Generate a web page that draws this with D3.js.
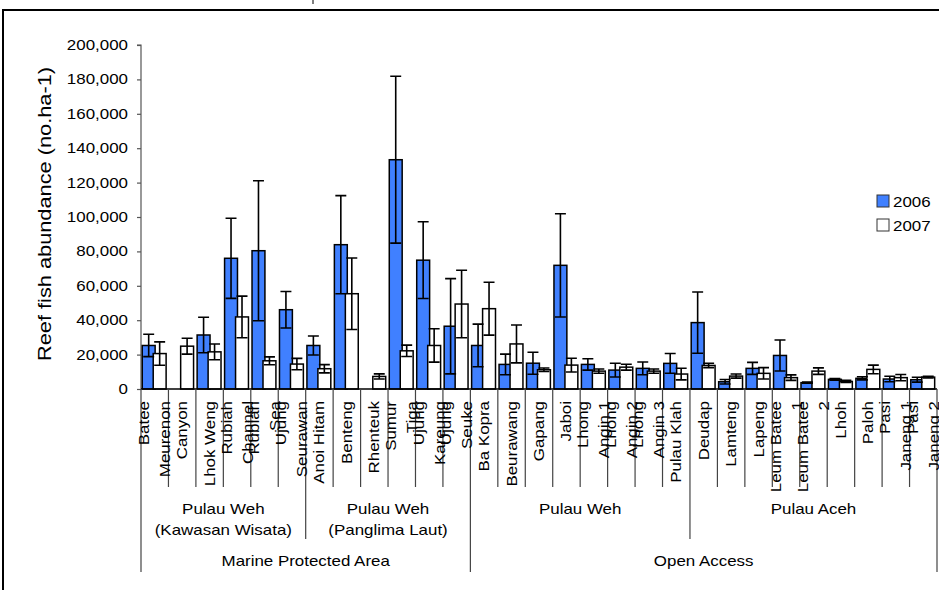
<!DOCTYPE html>
<html>
<head>
<meta charset="utf-8">
<script src="https://cdn.jsdelivr.net/npm/d3@7/dist/d3.min.js"></script>
<style>
  html, body { margin: 0; padding: 0; background: #fff; overflow: hidden; }
  svg { display: block; font-family: Arial, "Liberation Sans", sans-serif; }
</style>
</head>
<body>
<svg id="chart" width="939" height="590"></svg>
<script>
// Reef fish abundance per site, 2006 vs 2007, with error bars.
// Leaf labels are already wrapped into lines the way the reference shows them.
const siteLabels = [
  ['Batee', 'Meurenon'], ['Canyon'], ['Lhok Weng'], ['Rubiah', 'Channel'], ['Rubiah', 'Sea'], ['Ujung', 'Seurawan'],
  ['Anoi Hitam'], ['Benteng'], ['Rhenteuk'], ['Sumur', 'Tiga'], ['Ujung', 'Kareung'], ['Ujung', 'Seuke'],
  ['Ba Kopra'], ['Beurawang'], ['Gapang'], ['Jaboi'], ['Lhong', 'Angin 1'], ['Lhong', 'Angin 2'], ['Lhong', 'Angin 3'], ['Pulau Klah'],
  ['Deudap'], ['Lamteng'], ['Lapeng'], ['Leum Batee', '1'], ['Leum Batee', '2'], ['Lhoh'], ['Paloh'], ['Pasi', 'Janeng 1'], ['Pasi', 'Janeng 2'],
];
const values2006 = [25300, null, 31400, 76000, 80400, 46100, 25300, 83900, null, 133300, 74900, 36500,
  25300, 14300, 15000, 71900, 14300, 11000, 12000, 14900, 38600, 4200, 12000, 19500, 3700, 5600, 6200, 5800, 5400];
const errors2006 = [6500, null, 10300, 23300, 40700, 10600, 5500, 28500, null, 48500, 22300, 27700,
  12400, 6000, 6400, 30000, 3300, 4000, 3700, 5700, 17800, 1300, 3500, 9000, 400, 500, 900, 1600, 1400];
const values2007 = [20600, 24900, 21600, 41900, 16400, 14500, 11800, 55400, 7300, 22200, 25300, 49400,
  46700, 26200, 11200, 13900, 10400, 12700, 10400, 8700, 13700, 7500, 9100, 6600, 10400, 4400, 11400, 6600, 6900];
const errors2007 = [6800, 4600, 4600, 12100, 2300, 3300, 2400, 20800, 1500, 3300, 9700, 19600,
  15400, 11000, 1000, 4000, 1200, 1700, 1200, 3400, 1300, 1200, 3300, 1600, 1900, 600, 2500, 1800, 500];

const seriesNames = ['2006', '2007'];
const seriesColors = ['#4080ff', '#ffffff'];

const areaLabels = [['Pulau Weh', '(Kawasan Wisata)'], ['Pulau Weh', '(Panglima Laut)'], ['Pulau Weh'], ['Pulau Aceh']];
const areaSizes = [6, 6, 8, 9];
const accessLabels = ['Marine Protected Area', 'Open Access'];
const accessSizes = [2, 2]; // number of areas in each

const yTicks = d3.range(0, 200001, 20000);
const yTitle = 'Reef fish abundance (no.ha-1)';

const SX = 1.21; // the reference font runs wide along its baseline
const FONT = 14;

const svg = d3.select('#chart');

// Chart border (its right and bottom edges fall outside the picture)
svg.append('path').attr('d', 'M3,600V10H945').attr('fill', 'none').attr('stroke', '#000').attr('stroke-width', 2);
svg.append('line').attr('x1', 313).attr('x2', 313).attr('y1', 0).attr('y2', 4).attr('stroke', '#000').attr('stroke-width', 1);

const x = d3.scaleBand().domain(d3.range(siteLabels.length)).range([141, 937]).paddingInner(0).paddingOuter(0);
const y = d3.scaleLinear().domain([0, 200000]).range([389, 45]);
const bw = x.bandwidth();
const barW = bw * 0.47;
const offsets = [bw * 0.045, bw * 0.445];

function label(parent, tx, ty, str, opts = {}) {
  const g = parent.append('g').attr('transform', `translate(${tx},${ty})${opts.rotate ? ' rotate(-90)' : ''}`);
  g.append('text')
    .attr('transform', `scale(${SX},1)`)
    .attr('text-anchor', opts.anchor || 'middle')
    .attr('font-size', opts.size || FONT)
    .attr('fill', '#000')
    .text(str);
  return g;
}

// Y axis
const yAxis = svg.append('g').attr('transform', 'translate(141,0)')
  .call(d3.axisLeft(y).tickValues(yTicks).tickSize(4).tickFormat(''));
yAxis.select('.domain').attr('stroke', '#555').attr('stroke-width', 1.2).attr('d', `M-4,${y(200000)}H0V${y(0)}`);
yAxis.selectAll('.tick line').attr('stroke', '#555').attr('stroke-width', 1.2);
yTicks.forEach(t => label(svg, 128, y(t) + 5, d3.format(',')(t), { anchor: 'end' }));
label(svg, 51, 214, yTitle, { rotate: true, size: 18 });

// Bars
const series = seriesNames.map((name, i) => ({
  name, color: seriesColors[i], offset: offsets[i],
  values: i === 0 ? values2006 : values2007,
  errors: i === 0 ? errors2006 : errors2007,
}));
const points = series.flatMap(s => s.values.map((v, j) => ({ s, j, v, e: s.errors[j] })).filter(d => d.v != null));

svg.append('g').selectAll('rect').data(points).join('rect')
  .attr('x', d => x(d.j) + d.s.offset)
  .attr('y', d => y(d.v))
  .attr('width', barW)
  .attr('height', d => y(0) - y(d.v))
  .attr('fill', d => d.s.color)
  .attr('stroke', '#000')
  .attr('stroke-width', 1.5);

const capW = barW * 0.85;
const err = svg.append('g').attr('stroke', '#000').attr('stroke-width', 1.6).attr('fill', 'none');
err.selectAll('path').data(points).join('path')
  .attr('d', d => {
    const cx = x(d.j) + d.s.offset + barW / 2;
    const hi = y(d.v + d.e), lo = y(Math.max(0, d.v - d.e));
    return `M${cx},${hi}V${lo}M${cx - capW / 2},${hi}H${cx + capW / 2}M${cx - capW / 2},${lo}H${cx + capW / 2}`;
  });

// X axis line
svg.append('line').attr('x1', 141).attr('x2', 937).attr('y1', y(0)).attr('y2', y(0))
  .attr('stroke', '#000').attr('stroke-width', 1.5);

// Multi-level category axis: separators
const sep = svg.append('g').attr('stroke', '#444').attr('stroke-width', 1.2);
const areaEdges = d3.cumsum(areaSizes);
const accessEdges = d3.cumsum(accessSizes).map(k => areaEdges[k - 1]);
d3.range(siteLabels.length + 1).forEach(k => {
  const xx = k === siteLabels.length ? 937 : x(k);
  let bottom = 487;
  if (k === 0 || accessEdges.includes(k)) bottom = 572;
  else if (areaEdges.includes(k)) bottom = 539;
  sep.append('line').attr('x1', xx).attr('x2', xx).attr('y1', y(0)).attr('y2', bottom);
});

// Leaf labels, rotated, top-aligned under the axis
siteLabels.forEach((lines, j) => {
  const c = x(j) + bw / 2;
  lines.forEach((ln, li) => {
    const shift = lines.length === 1 ? 0 : (li === 0 ? -10.5 : 10.5);
    label(svg, c + shift + 5, 401, ln, { rotate: true, anchor: 'end' });
  });
});

// Area labels
let start = 0;
areaLabels.forEach((lines, i) => {
  const c = (x(start) + (start + areaSizes[i] >= siteLabels.length ? 937 : x(start + areaSizes[i]))) / 2;
  lines.forEach((ln, li) => label(svg, c, 514 + li * 21, ln));
  start += areaSizes[i];
});

// Access labels
let aStart = 0;
accessLabels.forEach((ln, i) => {
  const k0 = aStart === 0 ? 0 : areaEdges[aStart - 1];
  const k1 = areaEdges[aStart + accessSizes[i] - 1];
  const x0 = x(k0), x1 = k1 >= siteLabels.length ? 937 : x(k1);
  label(svg, (x0 + x1) / 2, 566, ln);
  aStart += accessSizes[i];
});

// Legend
const legend = svg.append('g').attr('transform', 'translate(877,195)');
series.forEach((s, i) => {
  legend.append('rect').attr('x', 0).attr('y', i * 24).attr('width', 12).attr('height', 12)
    .attr('fill', s.color).attr('stroke', '#333').attr('stroke-width', 1);
  label(legend, 16, i * 24 + 11.5, s.name, { anchor: 'start' });
});
</script>
</body>
</html>
